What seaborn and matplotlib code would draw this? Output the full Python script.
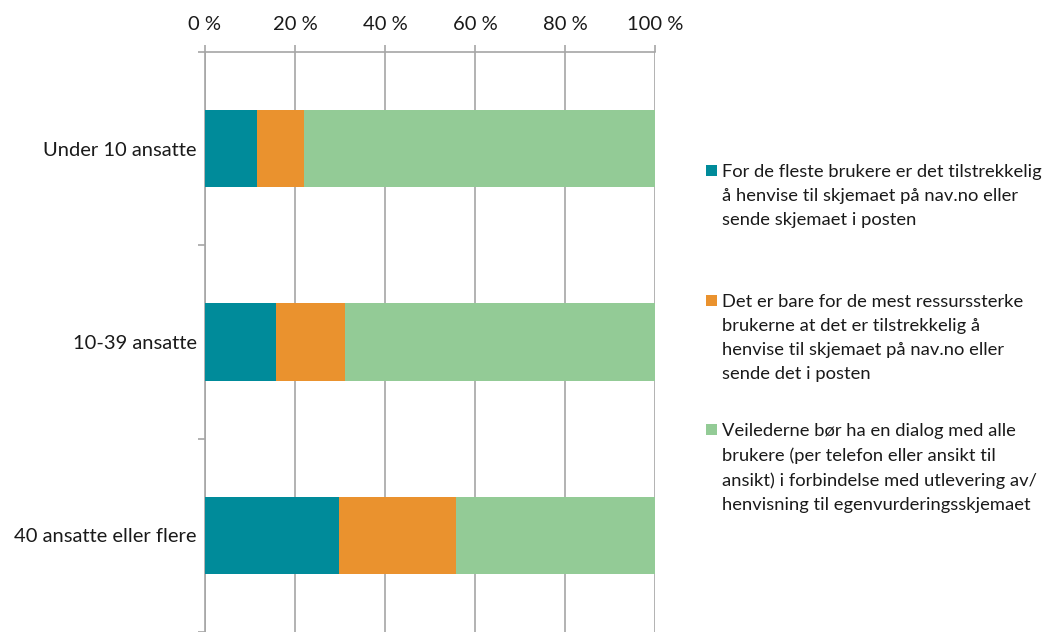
import matplotlib
matplotlib.use("Agg")
import matplotlib.pyplot as plt
import seaborn as sns
import pandas as pd
import numpy as np
from matplotlib.patches import Rectangle

categories = ["Under 10 ansatte", "10-39 ansatte", "40 ansatte eller flere"]
series_names = [
    "For de fleste brukere er det tilstrekkelig\nå henvise til skjemaet på nav.no eller\nsende skjemaet i posten",
    "Det er bare for de mest ressurssterke\nbrukerne at det er tilstrekkelig å\nhenvise til skjemaet på nav.no eller\nsende det i posten",
    "Veilederne bør ha en dialog med alle\nbrukere (per telefon eller ansikt til\nansikt) i forbindelse med utlevering av/\nhenvisning til egenvurderingsskjemaet",
]
teal_vals = [11.6, 15.8, 29.7]
orange_vals = [10.4, 15.4, 26.0]
green_vals = [78.0, 68.8, 44.3]
colors = ["#008B9A", "#EA922E", "#93CB96"]
xticks = [0, 20, 40, 60, 80, 100]
xtick_labels = ["0 %", "20 %", "40 %", "60 %", "80 %", "100 %"]

sns.set_theme(style="white")
plt.rcParams["font.family"] = ["Lato", "DejaVu Sans"]

W, H = 1056, 632
fig = plt.figure(figsize=(W / 100, H / 100), dpi=100)
ax = fig.add_axes([205 / W, 0.0, 450 / W, 1 - 52 / H])

t = np.array(teal_vals)
o = np.array(orange_vals)
g = np.array(green_vals)
df = pd.DataFrame({"cat": categories, "s1": t, "s2": t + o, "s3": t + o + g})

for col, c in zip(["s3", "s2", "s1"], colors[::-1]):
    sns.barplot(data=df, y="cat", x=col, color=c, orient="h", width=0.4,
                ax=ax, saturation=1, edgecolor="none", linewidth=0, zorder=3)

gray = "#A6A6A6"
txtc = "#1a1a1a"
ax.set_xlim(0, 100)
ax.set_ylim(2.5, -0.5)
ax.set_xlabel("")
ax.set_ylabel("")
ax.xaxis.tick_top()
ax.set_xticks(xticks)
ax.set_xticklabels(xtick_labels, fontsize=14.5, color=txtc)
ax.tick_params(axis="x", which="major", direction="out", length=5, width=1.2,
               color=gray, pad=9, top=True, bottom=False)
ax.set_yticks(range(len(categories)))
ax.set_yticklabels(categories, fontsize=14.5, color=txtc)
ax.set_yticks([-0.5, 0.5, 1.5, 2.5], minor=True)
ax.tick_params(axis="y", which="major", length=0, pad=6)
ax.tick_params(axis="y", which="minor", left=True, direction="out", length=5,
               width=1.2, color=gray)
ax.grid(axis="x", color=gray, linewidth=1.2, zorder=0)
ax.grid(axis="y", visible=False)
ax.set_axisbelow(True)
for side in ["right", "bottom"]:
    ax.spines[side].set_visible(False)
for side in ["left", "top"]:
    ax.spines[side].set_visible(True)
    ax.spines[side].set_color(gray)
    ax.spines[side].set_linewidth(1.2)

# legend (manual, handle aligned with first line as in the reference)
first_line_y = [171, 301, 430]
sq = 10.5
for name, c, yy in zip(series_names, colors, first_line_y):
    fig.patches.append(Rectangle((706 / W, 1 - (yy + sq / 2 - 0.5) / H), sq / W, sq / H,
                                 transform=fig.transFigure, facecolor=c,
                                 edgecolor="none", figure=fig))
    fig.text(722 / W, 1 - (yy - 7) / H, name, fontsize=13.2, color=txtc,
             va="top", ha="left", linespacing=1.62)

fig.savefig("out.png", dpi=100)
